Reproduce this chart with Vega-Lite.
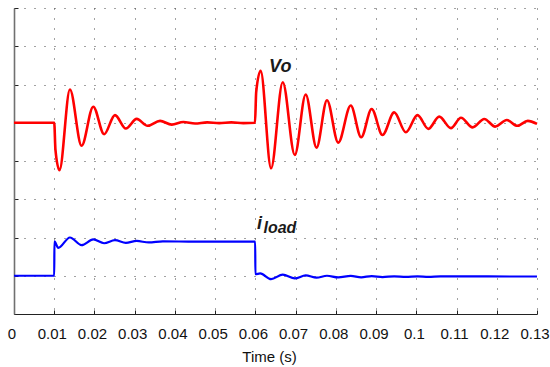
{
  "$schema": "https://vega.github.io/schema/vega-lite/v6.json",
  "width": 523,
  "height": 306,
  "autosize": {"type": "none"},
  "padding": {"left": 14, "top": 8, "right": 13, "bottom": 53},
  "background": "white",
  "config": {"view": {"stroke": null}, "font": "Liberation Sans"},
  "datasets": {
    "signals": [
      {"t": 0, "v": 5, "s": "Vo"},
      {"t": 0.01, "v": 5, "s": "Vo"},
      {"t": 0.0103, "v": 4.3, "s": "Vo"},
      {"t": 0.0113, "v": 3.76, "s": "Vo"},
      {"t": 0.0139, "v": 5.87, "s": "Vo"},
      {"t": 0.0168, "v": 4.40, "s": "Vo"},
      {"t": 0.0197, "v": 5.42, "s": "Vo"},
      {"t": 0.0224, "v": 4.70, "s": "Vo"},
      {"t": 0.0251, "v": 5.20, "s": "Vo"},
      {"t": 0.0278, "v": 4.85, "s": "Vo"},
      {"t": 0.0305, "v": 5.10, "s": "Vo"},
      {"t": 0.0332, "v": 4.92, "s": "Vo"},
      {"t": 0.0363, "v": 5.05, "s": "Vo"},
      {"t": 0.0392, "v": 4.95, "s": "Vo"},
      {"t": 0.0421, "v": 5.02, "s": "Vo"},
      {"t": 0.045, "v": 4.98, "s": "Vo"},
      {"t": 0.048, "v": 5.01, "s": "Vo"},
      {"t": 0.051, "v": 4.99, "s": "Vo"},
      {"t": 0.054, "v": 5.01, "s": "Vo"},
      {"t": 0.057, "v": 4.99, "s": "Vo"},
      {"t": 0.0599, "v": 5.0, "s": "Vo"},
      {"t": 0.0602, "v": 5.8, "s": "Vo"},
      {"t": 0.0613, "v": 6.36, "s": "Vo"},
      {"t": 0.0639, "v": 3.81, "s": "Vo"},
      {"t": 0.0668, "v": 6.06, "s": "Vo"},
      {"t": 0.0698, "v": 4.16, "s": "Vo"},
      {"t": 0.0725, "v": 5.74, "s": "Vo"},
      {"t": 0.0752, "v": 4.35, "s": "Vo"},
      {"t": 0.0778, "v": 5.59, "s": "Vo"},
      {"t": 0.0806, "v": 4.48, "s": "Vo"},
      {"t": 0.0837, "v": 5.45, "s": "Vo"},
      {"t": 0.0863, "v": 4.62, "s": "Vo"},
      {"t": 0.0889, "v": 5.36, "s": "Vo"},
      {"t": 0.0916, "v": 4.68, "s": "Vo"},
      {"t": 0.0945, "v": 5.27, "s": "Vo"},
      {"t": 0.0974, "v": 4.75, "s": "Vo"},
      {"t": 0.1003, "v": 5.20, "s": "Vo"},
      {"t": 0.1030, "v": 4.84, "s": "Vo"},
      {"t": 0.1057, "v": 5.16, "s": "Vo"},
      {"t": 0.1086, "v": 4.86, "s": "Vo"},
      {"t": 0.1111, "v": 5.13, "s": "Vo"},
      {"t": 0.1140, "v": 4.88, "s": "Vo"},
      {"t": 0.1169, "v": 5.10, "s": "Vo"},
      {"t": 0.1196, "v": 4.90, "s": "Vo"},
      {"t": 0.1225, "v": 5.07, "s": "Vo"},
      {"t": 0.1251, "v": 4.92, "s": "Vo"},
      {"t": 0.1277, "v": 5.05, "s": "Vo"},
      {"t": 0.13, "v": 4.97, "s": "Vo"},
      {"t": 0, "v": 1, "s": "iload"},
      {"t": 0.01, "v": 1, "s": "iload"},
      {"t": 0.01005, "v": 1.9, "s": "iload"},
      {"t": 0.0110, "v": 1.73, "s": "iload"},
      {"t": 0.0139, "v": 2.00, "s": "iload"},
      {"t": 0.0168, "v": 1.80, "s": "iload"},
      {"t": 0.0197, "v": 1.95, "s": "iload"},
      {"t": 0.0224, "v": 1.85, "s": "iload"},
      {"t": 0.0251, "v": 1.93, "s": "iload"},
      {"t": 0.0278, "v": 1.86, "s": "iload"},
      {"t": 0.0305, "v": 1.91, "s": "iload"},
      {"t": 0.0335, "v": 1.87, "s": "iload"},
      {"t": 0.037, "v": 1.90, "s": "iload"},
      {"t": 0.045, "v": 1.89, "s": "iload"},
      {"t": 0.05995, "v": 1.89, "s": "iload"},
      {"t": 0.06, "v": 1.04, "s": "iload"},
      {"t": 0.0612, "v": 1.06, "s": "iload"},
      {"t": 0.0639, "v": 0.91, "s": "iload"},
      {"t": 0.0668, "v": 1.03, "s": "iload"},
      {"t": 0.0698, "v": 0.93, "s": "iload"},
      {"t": 0.0725, "v": 1.01, "s": "iload"},
      {"t": 0.0752, "v": 0.95, "s": "iload"},
      {"t": 0.0778, "v": 1.0, "s": "iload"},
      {"t": 0.0806, "v": 0.955, "s": "iload"},
      {"t": 0.0837, "v": 0.995, "s": "iload"},
      {"t": 0.0863, "v": 0.96, "s": "iload"},
      {"t": 0.0889, "v": 0.99, "s": "iload"},
      {"t": 0.0916, "v": 0.965, "s": "iload"},
      {"t": 0.0945, "v": 0.985, "s": "iload"},
      {"t": 0.0974, "v": 0.97, "s": "iload"},
      {"t": 0.1003, "v": 0.985, "s": "iload"},
      {"t": 0.103, "v": 0.972, "s": "iload"},
      {"t": 0.106, "v": 0.982, "s": "iload"},
      {"t": 0.13, "v": 0.98, "s": "iload"}
    ],
    "labels": [
      {"t": 0.0634, "v": 6.33, "label": "Vo"},
      {"t": 0.0604, "v": 2.22, "label": "i"},
      {"t": 0.0620, "v": 2.11, "label": "load"}
    ]
  },
  "encoding": {
    "x": {
      "field": "t",
      "type": "quantitative",
      "scale": {"domain": [0, 0.13], "nice": false, "zero": false},
      "axis": {
        "values": [0, 0.01, 0.02, 0.03, 0.04, 0.05, 0.06, 0.07, 0.08, 0.09, 0.1, 0.11, 0.12, 0.13],
        "format": ".2~f",
        "title": "Time (s)",
        "titleFont": "Liberation Sans",
        "titleFontSize": 15,
        "titleFontWeight": "normal",
        "titleColor": "#111",
        "titleX": 255,
        "titlePadding": 8,
        "labelFont": "Liberation Sans",
        "labelFontSize": 15,
        "labelColor": "#111",
        "labelPadding": 16,
        "labelOffset": -2.5,
        "labelFlush": false,
        "labelBound": false,
        "tickSize": -4,
        "tickColor": "#222",
        "domainColor": "#222",
        "domainWidth": 1.2,
        "grid": true,
        "gridColor": "#444",
        "gridDash": [1, 9],
        "gridWidth": 1
      }
    },
    "y": {
      "field": "v",
      "type": "quantitative",
      "scale": {"domain": [0, 8], "nice": false, "zero": false},
      "axis": {
        "values": [0, 1, 2, 3, 4, 5, 6, 7, 8],
        "labels": false,
        "title": null,
        "tickSize": -4,
        "tickColor": "#222",
        "domainColor": "#707070",
        "domainWidth": 1.6,
        "grid": true,
        "gridColor": "#444",
        "gridDash": [1, 9],
        "gridWidth": 1
      }
    }
  },
  "layer": [
    {
      "data": {"name": "signals"},
      "transform": [{"filter": "datum.s == 'Vo'"}],
      "mark": {"type": "line", "interpolate": "monotone", "strokeWidth": 2.6, "color": "#ff0000"}
    },
    {
      "data": {"name": "signals"},
      "transform": [{"filter": "datum.s == 'iload'"}],
      "mark": {"type": "line", "interpolate": "monotone", "strokeWidth": 2.2, "color": "#0000ff"}
    },
    {
      "data": {"name": "labels"},
      "transform": [{"filter": "datum.label == 'Vo'"}],
      "mark": {"type": "text", "align": "left", "baseline": "alphabetic", "font": "Liberation Sans", "fontSize": 18, "fontWeight": "bold", "fontStyle": "italic", "color": "#1a1a1a"},
      "encoding": {"text": {"field": "label"}}
    },
    {
      "data": {"name": "labels"},
      "transform": [{"filter": "datum.label == 'i'"}],
      "mark": {"type": "text", "align": "left", "baseline": "alphabetic", "font": "Liberation Sans", "fontSize": 18, "fontWeight": "bold", "fontStyle": "italic", "color": "#1a1a1a"},
      "encoding": {"text": {"field": "label"}}
    },
    {
      "data": {"name": "labels"},
      "transform": [{"filter": "datum.label == 'load'"}],
      "mark": {"type": "text", "align": "left", "baseline": "alphabetic", "font": "Liberation Sans", "fontSize": 16, "fontWeight": "bold", "fontStyle": "italic", "color": "#1a1a1a"},
      "encoding": {"text": {"field": "label"}}
    }
  ]
}
